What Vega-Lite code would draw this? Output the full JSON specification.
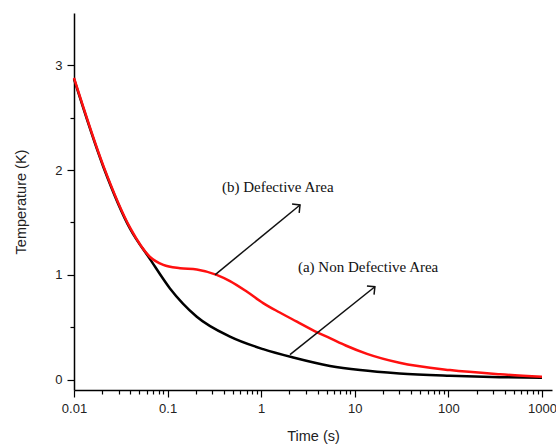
{
  "$schema": "https://vega.github.io/schema/vega-lite/v6.json",
  "width": 478,
  "height": 377,
  "autosize": {"type": "none"},
  "padding": {"left": 74, "top": 13, "right": 4, "bottom": 58},
  "background": "white",
  "config": {
    "view": {"stroke": null},
    "axis": {"grid": false, "domainColor": "#000", "domainWidth": 1.5, "tickColor": "#000", "tickWidth": 1.2, "labelFont": "Liberation Sans", "titleFont": "Liberation Sans", "labelFontSize": 13, "titleFontSize": 14.5, "labelColor": "#222", "titleColor": "#222", "titleFontWeight": "normal"}
  },
  "datasets": {
    "curves": [
      {"series": "Non Defective", "t": 0.01, "T": 2.87},
      {"series": "Non Defective", "t": 0.0206, "T": 2.03},
      {"series": "Non Defective", "t": 0.0397, "T": 1.44},
      {"series": "Non Defective", "t": 0.0649, "T": 1.15},
      {"series": "Non Defective", "t": 0.106, "T": 0.87},
      {"series": "Non Defective", "t": 0.205, "T": 0.60},
      {"series": "Non Defective", "t": 0.464, "T": 0.41},
      {"series": "Non Defective", "t": 1.05, "T": 0.29},
      {"series": "Non Defective", "t": 2.2, "T": 0.21},
      {"series": "Non Defective", "t": 5.43, "T": 0.13},
      {"series": "Non Defective", "t": 11.4, "T": 0.09},
      {"series": "Non Defective", "t": 30, "T": 0.058},
      {"series": "Non Defective", "t": 104, "T": 0.036},
      {"series": "Non Defective", "t": 356, "T": 0.022},
      {"series": "Non Defective", "t": 1000, "T": 0.016},
      {"series": "Defective", "t": 0.01, "T": 2.88},
      {"series": "Defective", "t": 0.0206, "T": 2.04},
      {"series": "Defective", "t": 0.0397, "T": 1.45},
      {"series": "Defective", "t": 0.0649, "T": 1.17},
      {"series": "Defective", "t": 0.09, "T": 1.095},
      {"series": "Defective", "t": 0.136, "T": 1.063},
      {"series": "Defective", "t": 0.205, "T": 1.05},
      {"series": "Defective", "t": 0.334, "T": 1.0},
      {"series": "Defective", "t": 0.464, "T": 0.94},
      {"series": "Defective", "t": 0.7, "T": 0.84},
      {"series": "Defective", "t": 1.05, "T": 0.73},
      {"series": "Defective", "t": 1.58, "T": 0.64},
      {"series": "Defective", "t": 2.38, "T": 0.555},
      {"series": "Defective", "t": 3.97, "T": 0.45},
      {"series": "Defective", "t": 5.43, "T": 0.395},
      {"series": "Defective", "t": 8, "T": 0.325},
      {"series": "Defective", "t": 13.5, "T": 0.245},
      {"series": "Defective", "t": 30, "T": 0.16},
      {"series": "Defective", "t": 104, "T": 0.09},
      {"series": "Defective", "t": 356, "T": 0.05},
      {"series": "Defective", "t": 1000, "T": 0.026}
    ],
    "arrows": [
      {"name": "b", "t0": 0.321, "T0": 1.0, "t1": 2.6, "T1": 1.667},
      {"name": "a", "t0": 2.03, "T0": 0.238, "t1": 16.4, "T1": 0.886}
    ],
    "labels": [
      {"text": "(b) Defective Area", "t": 0.381, "T": 1.838},
      {"text": "(a) Non Defective Area", "t": 2.47, "T": 1.076}
    ]
  },
  "layer": [
    {
      "data": {"name": "curves"},
      "mark": {"type": "line", "strokeWidth": 2.5, "interpolate": "monotone"},
      "encoding": {
        "x": {
          "field": "t", "type": "quantitative",
          "scale": {"type": "log", "domain": [0.01, 1280], "nice": false},
          "axis": {
            "title": "Time (s)",
            "titlePadding": 14,
            "values": [0.01,0.02,0.03,0.04,0.05,0.06,0.07,0.08,0.09,0.1,0.2,0.3,0.4,0.5,0.6,0.7,0.8,0.9,1,2,3,4,5,6,7,8,9,10,20,30,40,50,60,70,80,90,100,200,300,400,500,600,700,800,900,1000],
            "labelExpr": "abs(log(datum.value)/LN10 - round(log(datum.value)/LN10)) < 1e-6 ? format(datum.value, '~g') : ''",
            "labelOverlap": false,
            "labelBound": false,
            "labelFlush": false,
            "labelPadding": 5,
            "tickSize": {"condition": {"test": "abs(log(datum.value)/LN10 - round(log(datum.value)/LN10)) < 1e-6", "value": 7}, "value": 4}
          }
        },
        "y": {
          "field": "T", "type": "quantitative",
          "scale": {"domain": [-0.1, 3.5], "nice": false, "zero": false},
          "axis": {
            "title": "Temperature (K)",
            "titlePadding": 26,
            "values": [0, 0.5, 1, 1.5, 2, 2.5, 3],
            "labelExpr": "datum.value % 1 == 0 ? format(datum.value, 'd') : ''",
            "labelPadding": 5,
            "tickSize": {"condition": {"test": "datum.value % 1 == 0", "value": 7}, "value": 4}
          }
        },
        "color": {
          "field": "series", "type": "nominal",
          "scale": {"domain": ["Non Defective", "Defective"], "range": ["#000000", "#ff1010"]},
          "legend": null
        },
        "order": {"field": "t", "type": "quantitative"}
      }
    },
    {
      "data": {"name": "arrows"},
      "mark": {"type": "rule", "color": "#111", "strokeWidth": 1.5},
      "encoding": {
        "x": {"field": "t0", "type": "quantitative"},
        "y": {"field": "T0", "type": "quantitative"},
        "x2": {"field": "t1"},
        "y2": {"field": "T1"}
      }
    },
    {
      "data": {"name": "arrows"},
      "mark": {"type": "point", "shape": "M-1,1L0,0L1,1", "filled": false, "stroke": "#111", "strokeWidth": 1.5, "size": 128, "angle": 51, "opacity": 1},
      "encoding": {
        "x": {"field": "t1", "type": "quantitative"},
        "y": {"field": "T1", "type": "quantitative"}
      }
    },
    {
      "data": {"name": "labels"},
      "mark": {"type": "text", "font": "Liberation Serif", "fontSize": 15, "align": "left", "baseline": "middle", "color": "#111"},
      "encoding": {
        "x": {"field": "t", "type": "quantitative"},
        "y": {"field": "T", "type": "quantitative"},
        "text": {"field": "text"}
      }
    }
  ]
}
